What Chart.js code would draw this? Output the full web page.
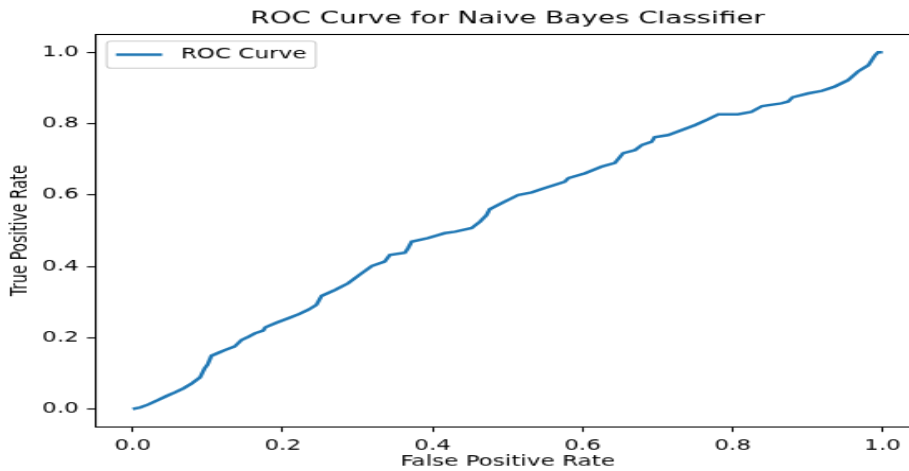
<!DOCTYPE html>
<html>
<head>
<meta charset="utf-8">
<script src="https://cdn.jsdelivr.net/npm/chart.js@4.4.1/dist/chart.umd.min.js"></script>
<style>
  html, body { margin: 0; padding: 0; overflow: hidden; background: #ffffff; width: 909px; height: 471px; }
  canvas { display: block; }
</style>
</head>
<body>
<canvas id="c" width="570" height="444" style="width:948px;height:471px;"></canvas>
<script>
// ---- data ----
const chartTitle = 'ROC Curve for Naive Bayes Classifier';
const seriesLabel = 'ROC Curve';
const xAxisLabel = 'False Positive Rate';
const yAxisLabel = 'True Positive Rate';
const xTicks = [0.0, 0.2, 0.4, 0.6, 0.8, 1.0];
const yTicks = [0.0, 0.2, 0.4, 0.6, 0.8, 1.0];
const fpr = [
  0.000, 0.010, 0.020, 0.034, 0.045, 0.056, 0.068, 0.079, 0.090, 0.096,
  0.100, 0.105, 0.115, 0.123, 0.136, 0.145, 0.155, 0.163, 0.174, 0.177,
  0.192, 0.207, 0.222, 0.234, 0.245, 0.252, 0.270, 0.287, 0.305, 0.319,
  0.336, 0.343, 0.363, 0.367, 0.372, 0.394, 0.416, 0.430, 0.452, 0.463,
  0.472, 0.476, 0.492, 0.514, 0.532, 0.550, 0.576, 0.581, 0.603, 0.625,
  0.643, 0.654, 0.670, 0.679, 0.692, 0.696, 0.714, 0.736, 0.750, 0.767,
  0.781, 0.807, 0.825, 0.839, 0.865, 0.874, 0.880, 0.901, 0.919, 0.936,
  0.954, 0.967, 0.981, 0.990, 0.994, 1.000
];
const tpr = [
  0.000, 0.004, 0.012, 0.025, 0.036, 0.046, 0.058, 0.072, 0.089, 0.114,
  0.125, 0.149, 0.158, 0.165, 0.175, 0.193, 0.203, 0.212, 0.220, 0.229,
  0.242, 0.254, 0.266, 0.278, 0.292, 0.317, 0.334, 0.352, 0.380, 0.401,
  0.413, 0.432, 0.438, 0.450, 0.469, 0.479, 0.493, 0.497, 0.507, 0.525,
  0.544, 0.560, 0.577, 0.600, 0.607, 0.620, 0.637, 0.647, 0.661, 0.679,
  0.690, 0.717, 0.726, 0.740, 0.749, 0.762, 0.768, 0.785, 0.796, 0.812,
  0.826, 0.826, 0.833, 0.849, 0.857, 0.862, 0.874, 0.885, 0.892, 0.904,
  0.922, 0.946, 0.964, 0.992, 1.000, 1.000
];

// ---- styling ----
const LINE_COLOR = '#1f77b4';
const TICK_FONT = 13.9;
const TITLE_FONT = 16.7;
const FAMILY = "'DejaVu Sans', sans-serif";
Chart.defaults.font.family = FAMILY;
Chart.defaults.color = '#000000';

const points = fpr.map((x, i) => ({ x: x, y: tpr[i] }));

const framePlugin = {
  id: 'mplFrame',
  afterDatasetsDraw(chart) {
    const { ctx, chartArea: a } = chart;
    ctx.save();
    // top and right spines
    ctx.strokeStyle = '#000000';
    ctx.lineWidth = 1.1;
    ctx.beginPath();
    ctx.moveTo(a.left, a.top);
    ctx.lineTo(a.right, a.top);
    ctx.lineTo(a.right, a.bottom);
    ctx.stroke();

    // legend (upper left, matplotlib style)
    const ds = chart.data.datasets[0];
    ctx.font = TICK_FONT + 'px ' + FAMILY;
    const tw = ctx.measureText(ds.label).width;
    const em = TICK_FONT;
    const bx = a.left + 0.5 * em;
    const by = a.top + 0.45 * em;
    const bh = 25.5;
    const hx0 = bx + 0.4 * em;
    const hx1 = hx0 + 2 * em;
    const tx = hx1 + 0.8 * em;
    const bw = (tx + tw + 0.4 * em) - bx;
    const cy = by + bh / 2;
    ctx.fillStyle = 'rgba(255,255,255,0.8)';
    ctx.strokeStyle = '#cccccc';
    ctx.lineWidth = 1.1;
    ctx.beginPath();
    if (ctx.roundRect) ctx.roundRect(bx, by, bw, bh, 2.8); else ctx.rect(bx, by, bw, bh);
    ctx.fill();
    ctx.stroke();
    ctx.strokeStyle = ds.borderColor;
    ctx.lineWidth = ds.borderWidth;
    ctx.beginPath();
    ctx.moveTo(hx0, cy);
    ctx.lineTo(hx1, cy);
    ctx.stroke();
    ctx.fillStyle = '#000000';
    ctx.textBaseline = 'middle';
    ctx.textAlign = 'left';
    ctx.fillText(ds.label, tx, cy);

    // title centred over the axes
    ctx.font = TITLE_FONT + 'px ' + FAMILY;
    ctx.textAlign = 'center';
    ctx.textBaseline = 'alphabetic';
    ctx.fillText(chartTitle, (a.left + a.right) / 2, a.top - 10.8);
    ctx.restore();
  }
};

function tickSetup(arr) {
  return function (scale) { scale.ticks = arr.map(v => ({ value: v })); };
}

new Chart(document.getElementById('c'), {
  type: 'line',
  data: {
    datasets: [{
      label: seriesLabel,
      data: points,
      borderColor: LINE_COLOR,
      backgroundColor: LINE_COLOR,
      borderWidth: 2.5,
      pointRadius: 0,
      tension: 0,
      fill: false
    }]
  },
  options: {
    responsive: false,
    devicePixelRatio: 1,
    animation: false,
    layout: { padding: { left: 0, top: 32.5, right: 16.8, bottom: 0 } },
    plugins: {
      legend: { display: false },
      title: { display: false },
      tooltip: { enabled: false }
    },
    scales: {
      x: {
        type: 'linear',
        position: 'bottom',
        min: -0.05,
        max: 1.05,
        afterBuildTicks: tickSetup(xTicks),
        afterFit(scale) { scale.height = 41.7; },
        ticks: {
          callback: v => Number(v).toFixed(1),
          font: { size: TICK_FONT },
          color: '#000000',
          padding: 4.9,
          maxRotation: 0,
          autoSkip: false
        },
        grid: {
          drawOnChartArea: false,
          drawTicks: true,
          tickLength: 4.86,
          tickColor: '#000000',
          tickWidth: 1.1
        },
        border: { display: true, color: '#000000', width: 1.1 },
        title: {
          display: true,
          text: xAxisLabel,
          font: { size: TICK_FONT },
          color: '#000000',
          padding: { top: 0, bottom: 0.5 }
        }
      },
      y: {
        type: 'linear',
        position: 'left',
        min: -0.05,
        max: 1.05,
        afterBuildTicks: tickSetup(yTicks),
        afterFit(scale) { scale.width = 57.2; },
        ticks: {
          callback: v => Number(v).toFixed(1),
          font: { size: TICK_FONT },
          color: '#000000',
          padding: 4.9,
          autoSkip: false
        },
        grid: {
          drawOnChartArea: false,
          drawTicks: true,
          tickLength: 4.86,
          tickColor: '#000000',
          tickWidth: 1.1
        },
        border: { display: true, color: '#000000', width: 1.1 },
        title: {
          display: true,
          text: yAxisLabel,
          font: { size: TICK_FONT },
          color: '#000000',
          padding: { top: 4, bottom: 0 }
        }
      }
    }
  },
  plugins: [framePlugin]
});
</script>
</body>
</html>
